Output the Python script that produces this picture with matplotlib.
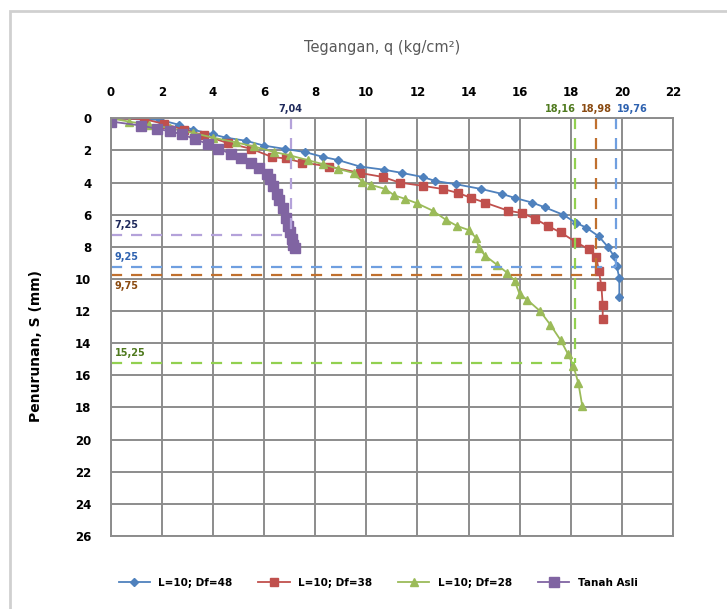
import numpy as np
import matplotlib
matplotlib.use('Agg')
import matplotlib.pyplot as plt
from matplotlib.patches import Rectangle

# DATA - tegangan q (kg/cm2) vs penurunan S (mm)
q_48 = [0, 1.94, 2.67, 3.2, 4.0, 4.5, 5.3, 6.0, 6.8, 7.6, 8.3, 8.9, 9.75, 10.7, 11.4,
        12.2, 12.7, 13.5, 14.5, 15.3, 15.8, 16.5, 17.0, 17.7, 18.2, 18.6, 19.1, 19.45,
        19.7, 19.8, 19.9, 19.9]
s_48 = [0, 0.1, 0.4, 0.7, 1.0, 1.2, 1.4, 1.7, 1.9, 2.1, 2.4, 2.6, 3.0, 3.2, 3.4,
        3.65, 3.9, 4.1, 4.4, 4.7, 4.95, 5.25, 5.55, 6.0, 6.5, 6.8, 7.35, 8.0,
        8.6, 9.2, 9.95, 11.15]

q_38 = [0, 1.3, 2.1, 2.85, 3.65, 4.6, 5.5, 6.3, 6.85, 7.5, 8.55, 9.75, 10.65, 11.3,
        12.2, 13.0, 13.6, 14.1, 14.65, 15.55, 16.1, 16.6, 17.1, 17.6, 18.2, 18.7,
        19.0, 19.1, 19.2, 19.25, 19.25]
s_38 = [0, 0.05, 0.35, 0.7, 1.05, 1.55, 1.9, 2.4, 2.5, 2.75, 3.0, 3.4, 3.65, 4.0,
        4.2, 4.4, 4.65, 4.95, 5.25, 5.75, 5.9, 6.25, 6.7, 7.1, 7.7, 8.15,
        8.65, 9.5, 10.45, 11.65, 12.5]

q_28 = [0, 0.7, 1.5, 2.3, 3.2, 4.0, 4.9, 5.6, 6.4, 7.0, 7.7, 8.3, 8.9, 9.5, 9.85,
        10.2, 10.75, 11.1, 11.5, 12.0, 12.6, 13.1, 13.55, 14.0, 14.3, 14.4, 14.65,
        15.1, 15.5, 15.8, 16.0, 16.3, 16.8, 17.2, 17.6, 17.9, 18.1, 18.3, 18.45]
s_28 = [0, 0.2, 0.4, 0.6, 0.9, 1.2, 1.5, 1.75, 2.1, 2.3, 2.6, 2.85, 3.15, 3.4, 3.95,
        4.15, 4.4, 4.8, 5.0, 5.3, 5.75, 6.3, 6.7, 6.95, 7.45, 8.05, 8.55,
        9.1, 9.6, 10.1, 10.95, 11.3, 12.0, 12.85, 13.8, 14.7, 15.4, 16.5, 17.9]

q_asli = [0, 1.2, 1.8, 2.3, 2.8, 3.3, 3.8, 4.2, 4.7, 5.1, 5.5, 5.8, 6.1, 6.25, 6.35,
          6.5, 6.6, 6.75, 6.85, 6.95, 7.0, 7.1, 7.15, 7.2]
s_asli = [0.2, 0.45, 0.65, 0.8, 1.0, 1.3, 1.6, 1.9, 2.2, 2.45, 2.75, 3.1, 3.45, 3.8, 4.2,
          4.7, 5.1, 5.6, 6.2, 6.7, 7.1, 7.5, 7.9, 8.05]

labels = ['L=10; Df=48', 'L=10; Df=38', 'L=10; Df=28', 'Tanah Asli']

# garis bantu (q ultimit, S)
q_ult = [19.76, 18.98, 18.16, 7.04]
s_ult = [9.25, 9.75, 15.25, 7.25]
q_txt = ['19,76', '18,98', '18,16', '7,04']
s_txt = ['9,25', '9,75', '15,25', '7,25']

fig = plt.figure(figsize=(7.27, 6.09), dpi=100)
ax = fig.add_axes([0.1523, 0.1199, 0.7734, 0.6858])

ax.plot(q_48, s_48, '-D', color='#4F81BD', ms=4, lw=1.3, label=labels[0])
ax.plot(q_38, s_38, '-s', color='#C0504D', ms=6, lw=1.3, label=labels[1])
ax.plot(q_28, s_28, '-^', color='#9BBB59', ms=6, lw=1.3, label=labels[2])
ax.plot(q_asli, s_asli, '-s', color='#8064A2', ms=6.5, lw=1.3, label=labels[3])

# garis putus-putus
dash_col = ['#6f9fe0', '#c0702e', '#92d050', '#b4a2da']
txt_col = ['#2e62b0', '#8a4a10', '#4f7a1e', '#1f2a5c']
for i in range(4):
    ax.plot([q_ult[i], q_ult[i]], [0, s_ult[i]], '--', color=dash_col[i], lw=1.6, dashes=(5, 4))
    ax.plot([0, q_ult[i]], [s_ult[i], s_ult[i]], '--', color=dash_col[i], lw=1.6, dashes=(5, 4))

# label q
ax.text(7.04, -0.3, q_txt[3], color=txt_col[3], fontsize=7, fontweight='bold', ha='center', va='bottom')
ax.text(18.2, -0.3, q_txt[2], color=txt_col[2], fontsize=7, fontweight='bold', ha='right', va='bottom')
ax.text(19.0, -0.3, q_txt[1], color=txt_col[1], fontsize=7, fontweight='bold', ha='center', va='bottom')
ax.text(19.8, -0.3, q_txt[0], color=txt_col[0], fontsize=7, fontweight='bold', ha='left', va='bottom')
# label S
ax.text(0.15, s_ult[3] - 0.3, s_txt[3], color=txt_col[3], fontsize=7, fontweight='bold', va='bottom')
ax.text(0.15, s_ult[0] - 0.3, s_txt[0], color=txt_col[0], fontsize=7, fontweight='bold', va='bottom')
ax.text(0.15, s_ult[1] + 0.4, s_txt[1], color=txt_col[1], fontsize=7, fontweight='bold', va='top')
ax.text(0.15, s_ult[2] - 0.3, s_txt[2], color=txt_col[2], fontsize=7, fontweight='bold', va='bottom')

ax.set_xlim(0, 22)
ax.set_ylim(26, 0)
ax.set_xticks(np.arange(0, 23, 2))
ax.set_yticks(np.arange(0, 27, 2))
ax.xaxis.tick_top()
ax.tick_params(axis='both', length=0, labelsize=8.5, pad=14)
for t in ax.get_xticklabels() + ax.get_yticklabels():
    t.set_fontweight('bold')
ax.grid(True, color='#8c8c8c', lw=1.4)
for sp in ax.spines.values():
    sp.set_color('#8c8c8c')
    sp.set_linewidth(1.4)
ax.set_axisbelow(True)

fig.text(0.525, 0.922, 'Tegangan, q (kg/cm²)', ha='center', va='center', fontsize=10.5, color='#595959')
ax.set_ylabel('Penurunan, S (mm)', fontsize=10, fontweight='bold')
ax.yaxis.set_label_coords(-0.12, 0.455)

fig.legend(loc='center', bbox_to_anchor=(0.52, 0.043), ncol=4, frameon=False,
           prop={'size': 7.5, 'weight': 'bold'}, handlelength=3, columnspacing=2.5)

# bingkai chart
fig.patches.append(Rectangle((10 / 727, -0.1), 1.2, (609 - 11) / 609 + 0.1, transform=fig.transFigure,
                             fill=False, edgecolor='#d0d0d0', lw=2))

fig.savefig('out.png', dpi=100)
